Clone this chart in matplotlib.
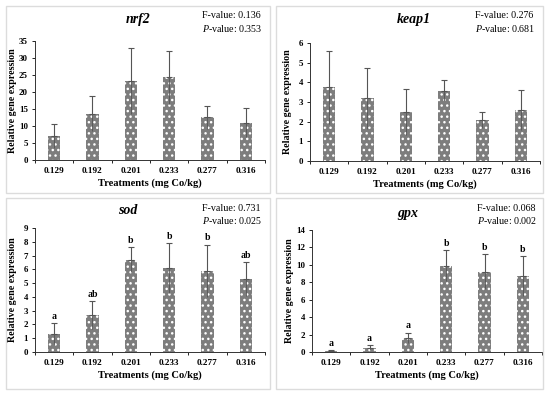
import matplotlib
matplotlib.use('Agg')
import matplotlib.pyplot as plt
import numpy as np
from matplotlib.patches import Rectangle

plt.rcParams['font.family'] = ['Liberation Serif', 'DejaVu Serif']
plt.rcParams['mathtext.fontset'] = 'custom'
plt.rcParams['mathtext.rm'] = 'Liberation Serif'
plt.rcParams['mathtext.it'] = 'Liberation Serif:italic'
plt.rcParams['hatch.color'] = 'white'
plt.rcParams['hatch.linewidth'] = 1.0

treatments = ['0.129', '0.192', '0.201', '0.233', '0.277', '0.316']

# gene data: mean and SD
nrf2_mean = [7.0, 13.6, 23.2, 24.3, 12.6, 11.0]
nrf2_sd = [3.6, 5.1, 9.7, 7.8, 3.4, 4.2]
keap1_mean = [3.75, 3.2, 2.48, 3.58, 2.07, 2.6]
keap1_sd = [1.85, 1.55, 1.17, 0.52, 0.40, 1.02]
sod_mean = [1.3, 2.7, 6.7, 6.1, 5.9, 5.3]
sod_sd = [0.8, 1.0, 0.9, 1.8, 1.9, 1.2]
gpx_mean = [0.1, 0.5, 1.6, 9.9, 9.2, 8.7]
gpx_sd = [0.1, 0.3, 0.6, 1.8, 2.0, 2.3]

sod_letters = ['a', 'ab', 'b', 'b', 'b', 'ab']
gpx_letters = ['a', 'a', 'a', 'b', 'b', 'b']

stats = {
    'nrf2': ('0.136', '0.353'),
    'keap1': ('0.276', '0.681'),
    'sod': ('0.731', '0.025'),
    'gpx': ('0.068', '0.002'),
}

W, H = 550, 398
fig = plt.figure(figsize=(W / 100, H / 100), dpi=100)


def px_rect(x0, y0, x1, y1):
    # pixel box -> figure fraction [l, b, w, h]
    return [x0 / W, 1 - y1 / H, (x1 - x0) / W, (y1 - y0) / H]


def panel(box, axbox, name, means, sds, ymax, ystep, title_xy, stat_xy, letters=None):
    # light frame round the panel
    bx = px_rect(*box)
    fig.patches.append(Rectangle((bx[0], bx[1]), bx[2], bx[3], transform=fig.transFigure,
                                 fill=False, edgecolor='#dcdcdc', lw=1.0, zorder=0))
    ax = fig.add_axes(px_rect(*axbox))
    x = np.arange(len(treatments))
    ax.bar(x, means, width=0.33, color='#7d7d7d', hatch='...', linewidth=0, zorder=2)
    zeros = np.zeros(len(means))
    ax.errorbar(x, means, yerr=[zeros, sds], fmt='none', ecolor='#555555',
                elinewidth=0.8, capsize=2.2, capthick=0.8, zorder=3)
    ax.errorbar(x, means, yerr=[sds, zeros], fmt='none', ecolor='#555555',
                elinewidth=0.6, capsize=0, zorder=3)
    if letters:
        for xi, m, s, l in zip(x, means, sds, letters):
            ax.text(xi, m + s + ymax * 0.02, l, ha='center', va='bottom',
                    fontsize=7, fontweight='bold')
    ax.set_xlim(-0.5, len(treatments) - 0.5)
    ax.set_ylim(0, ymax)
    ax.set_yticks(np.arange(0, ymax + 0.01, ystep))
    ax.set_xticks(x)
    ax.set_xticklabels(treatments, fontsize=6.6, fontweight='bold')
    ax.set_xticks(np.arange(-0.5, len(treatments), 1.0), minor=True)
    ax.tick_params(axis='x', which='major', length=0, pad=5)
    ax.tick_params(axis='x', which='minor', length=2.5, width=0.6, direction='out')
    ax.tick_params(axis='y', length=2.5, width=0.6, labelsize=6.4, pad=2.5)
    for lab in ax.get_yticklabels():
        lab.set_fontweight('bold')
    for sp in ['top', 'right']:
        ax.spines[sp].set_visible(False)
    for sp in ['left', 'bottom']:
        ax.spines[sp].set_linewidth(0.7)
        ax.spines[sp].set_color('#333333')
    ax.set_xlabel('Treatments (mg Co/kg)', fontsize=7.6, fontweight='bold')
    ax.set_ylabel('Relative gene expression', fontsize=7.2, fontweight='bold')
    aw = axbox[2] - axbox[0]
    ah = axbox[3] - axbox[1]
    ax.yaxis.set_label_coords(-17.5 / aw, 0.5)
    ax.xaxis.set_label_coords(0.5, -18 / ah)

    tx, ty = title_xy
    fig.text(tx / W, 1 - ty / H, name, ha='center', va='center', fontsize=10,
             fontweight='bold', style='italic')
    sx, sy = stat_xy
    f, p = stats[name]
    fig.text(sx / W, 1 - sy / H, 'F-value: ' + f, ha='left', va='center', fontsize=7.2)
    fig.text(sx / W, 1 - (sy + 13) / H, r'$\it{P}$-value: ' + p, ha='left', va='center', fontsize=7.2)
    return ax


panel((6, 6, 270, 193), (35, 41, 265, 160), 'nrf2', nrf2_mean, nrf2_sd, 35, 5,
      (138, 20), (202, 15))
panel((276, 6, 543, 193), (310, 43, 540, 161), 'keap1', keap1_mean, keap1_sd, 6, 1,
      (414, 20), (475, 15))
panel((6, 198, 270, 389), (35, 228, 265, 352), 'sod', sod_mean, sod_sd, 9, 1,
      (128, 211), (202, 208), sod_letters)
panel((276, 198, 543, 389), (312, 230, 542, 352), 'gpx', gpx_mean, gpx_sd, 14, 2,
      (408, 213), (477, 208), gpx_letters)

fig.savefig('out.png', dpi=100)
